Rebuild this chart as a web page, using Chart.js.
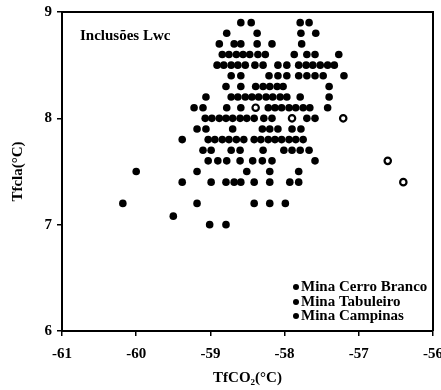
<!DOCTYPE html>
<html>
<head>
<meta charset="utf-8">
<script src="https://cdn.jsdelivr.net/npm/chart.js@4"></script>
<style>
  body { margin: 0; background: #fff; }
</style>
</head>
<body>
<canvas id="grafico" width="441" height="390"></canvas>
<script>
// Inclusões Lwc: TfCO2 (x) contra Tfcla (y), lidos linha a linha
const cerroBrancoRows = [
  [8.9, [-58.59, -58.45, -57.79, -57.67]],
  [8.8, [-58.78, -58.37, -57.78, -57.58]],
  [8.7, [-58.88, -58.68, -58.59, -58.37, -58.17, -57.77]],
  [8.6, [-58.84, -58.75, -58.65, -58.56, -58.47, -58.36, -58.26, -57.87, -57.70, -57.59, -57.27]],
  [8.5, [-58.91, -58.82, -58.72, -58.63, -58.53, -58.40, -58.29, -58.09, -57.97, -57.81, -57.71, -57.62, -57.52, -57.42, -57.33]],
  [8.4, [-58.72, -58.59, -58.21, -58.09, -57.97, -57.81, -57.70, -57.59, -57.48, -57.20]],
  [8.3, [-58.79, -58.59, -58.39, -58.29, -58.20, -58.10, -58.02, -57.40]],
  [8.2, [-59.06, -58.72, -58.63, -58.53, -58.44, -58.35, -58.25, -58.16, -58.06, -57.97, -57.79, -57.40]],
  [8.1, [-59.22, -59.10, -58.78, -58.59, -58.22, -58.13, -58.04, -57.94, -57.85, -57.75, -57.66, -57.42]],
  [8.0, [-59.07, -58.98, -58.88, -58.79, -58.70, -58.60, -58.51, -58.41, -58.28, -58.17, -57.70, -57.59]],
  [7.9, [-59.18, -59.06, -58.70, -58.30, -58.20, -58.09, -57.90, -57.78]],
  [7.8, [-59.38, -59.03, -58.94, -58.84, -58.75, -58.65, -58.55, -58.41, -58.32, -58.22, -58.13, -58.04, -57.94, -57.85, -57.75]],
  [7.7, [-59.10, -58.99, -58.72, -58.60, -58.29, -58.01, -57.90, -57.79, -57.67]],
  [7.6, [-59.03, -58.90, -58.78, -58.60, -58.43, -58.30, -58.17, -57.59]],
  [7.5, [-60.00, -59.18, -58.51, -58.20, -57.81]],
  [7.4, [-59.38, -58.99, -58.79, -58.68, -58.59, -58.41, -58.20, -57.93, -57.81]],
  [7.2, [-60.18, -59.18, -58.41, -58.20, -57.99]],
  [7.08, [-59.50]],
  [7.0, [-59.01, -58.79]]
];

const tabuleiroRows = [];

const campinasRows = [
  [8.1, [-58.39]],
  [8.0, [-57.90, -57.21]],
  [7.6, [-56.61]],
  [7.4, [-56.40]]
];

const serieNomes = ['Mina Cerro Branco', 'Mina Tabuleiro', 'Mina Campinas'];
const xTicks = [-61, -60, -59, -58, -57, -56];
const yTicks = [6, 7, 8, 9];

function toPoints(rows) {
  const pts = [];
  rows.forEach(r => r[1].forEach(x => pts.push({ x: x, y: r[0] })));
  return pts;
}

Chart.defaults.font.family = "'Liberation Serif', 'Times New Roman', serif";
Chart.defaults.color = '#000';

// moldura superior/direita, texto e legenda dentro da área
const extras = {
  id: 'extras',
  afterDraw(chart) {
    const { ctx, chartArea: a } = chart;
    ctx.save();
    ctx.strokeStyle = '#000';
    ctx.lineWidth = 2;
    ctx.beginPath();
    ctx.moveTo(a.left, a.top);
    ctx.lineTo(a.right, a.top);
    ctx.lineTo(a.right, a.bottom);
    ctx.stroke();

    ctx.fillStyle = '#000';
    ctx.font = "bold 15px 'Liberation Serif'";
    ctx.textBaseline = 'middle';
    ctx.fillText('Inclusões Lwc', 80, 36);

    ctx.font = "bold 15px 'Liberation Serif'";
    const ys = [287, 302, 316];
    serieNomes.forEach((nome, i) => {
      ctx.beginPath();
      ctx.arc(296, ys[i], 3, 0, Math.PI * 2);
      ctx.fill();
      ctx.fillText(nome, 301, ys[i]);
    });
    ctx.restore();
  }
};

new Chart(document.getElementById('grafico'), {
  type: 'scatter',
  data: {
    datasets: [
      {
        label: serieNomes[0],
        data: toPoints(cerroBrancoRows),
        pointStyle: 'circle',
        pointRadius: 3.8,
        backgroundColor: '#000',
        borderColor: '#000',
        borderWidth: 0
      },
      {
        label: serieNomes[1],
        data: toPoints(tabuleiroRows),
        pointStyle: 'circle',
        pointRadius: 3.8,
        backgroundColor: '#000',
        borderColor: '#000',
        borderWidth: 0
      },
      {
        label: serieNomes[2],
        data: toPoints(campinasRows),
        pointStyle: 'circle',
        pointRadius: 3.2,
        backgroundColor: '#fff',
        borderColor: '#000',
        borderWidth: 2.2
      }
    ]
  },
  options: {
    responsive: false,
    devicePixelRatio: 1,
    animation: false,
    layout: { padding: { top: 12, right: 8, left: 0, bottom: 0 } },
    plugins: {
      legend: { display: false },
      tooltip: { enabled: false }
    },
    scales: {
      x: {
        type: 'linear',
        min: -61,
        max: -56,
        afterBuildTicks: s => { s.ticks = xTicks.map(v => ({ value: v })); },
        afterFit: s => { s.height = 59; s.paddingLeft = 0; s.paddingRight = 0; },
        grid: { display: true, drawOnChartArea: false, drawTicks: true, tickLength: 5, color: '#000', lineWidth: 1.5 },
        border: { display: true, color: '#000', width: 2 },
        ticks: { padding: 9, font: { size: 15, weight: 'bold' }, color: '#000' },
        title: {
          display: true,
          text: 'TfCO₂(°C)',
          font: { size: 15, weight: 'bold' },
          color: '#000',
          padding: { top: 0, bottom: 3 }
        }
      },
      y: {
        type: 'linear',
        min: 6,
        max: 9,
        afterBuildTicks: s => { s.ticks = yTicks.map(v => ({ value: v })); },
        afterFit: s => { s.width = 62; s.paddingTop = 0; s.paddingBottom = 0; },
        grid: { display: true, drawOnChartArea: false, drawTicks: true, tickLength: 5, color: '#000', lineWidth: 1.5 },
        border: { display: true, color: '#000', width: 2 },
        ticks: { padding: 5, font: { size: 15, weight: 'bold' }, color: '#000' },
        title: {
          display: true,
          text: 'Tfcla(°C)',
          font: { size: 15, weight: 'bold' },
          color: '#000',
          padding: { top: 9, bottom: 0 }
        }
      }
    }
  },
  plugins: [extras]
});
</script>
</body>
</html>
